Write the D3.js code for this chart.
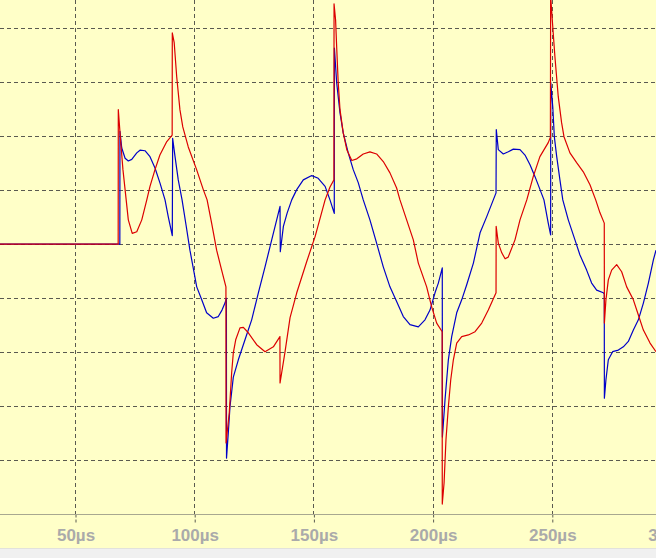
<!DOCTYPE html>
<html>
<head>
<meta charset="utf-8">
<script src="https://cdn.jsdelivr.net/npm/d3@7"></script>
<style>
  html, body { margin: 0; padding: 0; background: #f0f0f0; }
  svg { display: block; }
</style>
</head>
<body>
<svg id="chart" width="656" height="558"></svg>
<script>
// ---- data (time in µs, value in grid units) ----
const tickValues = [50, 100, 150, 200, 250, 300];
const tickUnit = "µs";
const gridLevels = [-4, -3, -2, -1, 0, 1, 2, 3, 4];

const redT = [18, 67.9, 67.95, 68.9, 69.9, 70.8, 72.15, 73.8, 75.7, 77.8, 79.9, 81.25, 83.35, 85.4, 88.3, 90.55,
  90.6, 91.4, 92.45, 93.8, 95.0, 97.3, 100.8, 103.6, 105.2, 107.1, 109.2, 111.3, 113.1,
  113.15, 114.5, 115.5, 116.2, 117.2, 119.0, 120.4, 122.5, 126.0, 129.5, 133.0, 135.75,
  135.8, 137.9, 140.0, 142.8, 147.0, 150.5, 154.7, 156.75, 158.4,
  158.45, 159.1, 159.6, 160.2, 160.95, 162.3, 163.8, 165.9, 168.0, 170.7, 173.5, 176.3, 179.1, 181.9, 184.7, 186.1, 188.9, 191.7, 193.8, 197.3, 199.4, 201.5, 203.8,
  203.85, 204.6, 205.4, 206.4, 207.4, 208.5, 209.9, 212.0, 214.8, 217.6, 220.4, 223.15, 226.4,
  226.45, 227.35, 228.8, 230.2, 231.5, 234.35, 236.45, 239.3, 242.0, 244.8, 248.3, 249.2,
  249.3, 250.2, 251.1, 252.5, 253.9, 254.9, 257.4, 260.2, 263.0, 265.8, 268.2, 270.0, 271.8,
  271.85, 272.5, 273.5, 274.9, 277.0, 279.1, 281.2, 284.0, 286.1, 288.2, 291.0, 293.5];
const redV = [0, 0, 2.49, 1.93, 1.38, 1.01, 0.45, 0.20, 0.23, 0.45, 0.82, 1.07, 1.38, 1.65, 1.90, 2.02,
  3.91, 3.73, 3.10, 2.49, 2.17, 1.80, 1.38, 1.01, 0.82, 0.39, -0.11, -0.48, -0.79,
  -3.68, -3.12, -2.38, -2.01, -1.77, -1.55, -1.54, -1.64, -1.86, -1.99, -1.90, -1.71,
  -2.57, -1.99, -1.36, -0.90, -0.32, 0.14, 0.82, 1.06, 1.19,
  4.45, 4.15, 3.60, 2.99, 2.49, 2.06, 1.75, 1.55, 1.58, 1.67, 1.71, 1.67, 1.53, 1.32, 1.04, 0.82, 0.45, 0.08, -0.35, -0.79, -1.16, -1.46, -1.62,
  -4.81, -4.42, -3.62, -3.01, -2.51, -2.14, -1.83, -1.71, -1.68, -1.62, -1.46, -1.22, -0.90,
  0.33, 0.02, -0.16, -0.27, -0.24, 0.08, 0.45, 0.82, 1.25, 1.62, 1.88, 1.98,
  4.6, 4.02, 3.47, 2.73, 2.25, 1.99, 1.69, 1.51, 1.34, 1.10, 0.82, 0.58, 0.39,
  -1.46, -1.03, -0.66, -0.48, -0.38, -0.51, -0.79, -1.03, -1.31, -1.59, -1.83, -1.99];

const blueT = [18, 68.6, 68.65, 69.4, 70.8, 72.15, 73.6, 75.7, 77.05, 79.15, 81.25, 83.35, 85.45, 87.55, 88.9, 90.6,
  90.75, 91.75, 93.1, 94.7, 96.35, 98.0, 100.85, 102.95, 105.0, 107.8, 109.9, 111.45, 112.7, 113.3,
  113.35, 114.1, 114.8, 116.2, 118.3, 121.1, 123.9, 126.7, 129.5, 132.3, 135.8,
  135.9, 137.2, 138.8, 140.7, 142.8, 145.55, 149.1, 151.8, 154.7, 156.75, 158.55,
  158.6, 159.55, 160.95, 162.3, 164.4, 166.5, 168.6, 170.7, 173.5, 176.3, 179.1, 181.9, 184.7, 187.5, 190.3, 193.8, 196.6, 198.7, 200.8, 202.2, 203.85,
  203.9, 205.0, 206.4, 207.8, 209.9, 212.0, 214.1, 216.9, 219.7, 222.5, 225.25, 226.4,
  226.5, 227.35, 229.45, 231.55, 233.65, 236.45, 238.55, 240.65, 242.75, 244.85, 246.5, 248.3, 249.3,
  249.35, 250.2, 250.85, 251.85, 253.2, 254.4, 256.7, 259.5, 261.6, 264.4, 266.5, 268.6, 271.4, 271.8,
  271.85, 272.5, 273.5, 275.3, 277.7, 279.8, 281.9, 284.0, 286.1, 288.2, 290.3, 292.4, 293.5];
const blueV = [0, 0, 2.09, 1.78, 1.59, 1.54, 1.57, 1.69, 1.74, 1.73, 1.62, 1.41, 1.13, 0.82, 0.51, 0.16,
  1.96, 1.62, 1.19, 0.82, 0.36, -0.11, -0.79, -1.03, -1.27, -1.37, -1.34, -1.22, -1.09, -1.0,
  -3.96, -3.49, -3.01, -2.46, -2.14, -1.77, -1.40, -0.90, -0.42, 0.08, 0.70,
  -0.14, 0.33, 0.58, 0.82, 1.01, 1.19, 1.27, 1.22, 1.07, 0.82, 0.57,
  3.63, 2.99, 2.43, 2.06, 1.69, 1.38, 1.14, 0.82, 0.45, 0.02, -0.42, -0.79, -1.06, -1.34, -1.49, -1.53, -1.40, -1.22, -0.90, -0.72, -0.44,
  -3.57, -2.88, -2.14, -1.71, -1.27, -1.03, -0.75, -0.35, 0.21, 0.51, 0.82, 0.95,
  2.12, 1.75, 1.67, 1.71, 1.76, 1.75, 1.65, 1.47, 1.25, 1.01, 0.82, 0.39, 0.17,
  2.99, 2.54, 1.99, 1.62, 1.19, 0.82, 0.45, 0.08, -0.20, -0.48, -0.72, -0.85, -0.90, -0.92,
  -2.85, -2.51, -2.14, -1.99, -1.96, -1.90, -1.80, -1.59, -1.40, -1.09, -0.72, -0.29, -0.11];

// ---- drawing ----
const W = 656, H = 558, plotBottom = 514.3;
const svg = d3.select("#chart");

const x = d3.scaleLinear().domain([0, 300]).range([-43.7, 671.5]);
const y = d3.scaleLinear().domain([-5, 4.52]).range([plotBottom, 0]);

// backgrounds
svg.append("rect").attr("x", 0).attr("y", 0).attr("width", W).attr("height", 548).attr("fill", "#ffffc8");
svg.append("rect").attr("x", 0).attr("y", 548).attr("width", W).attr("height", 10).attr("fill", "#f0f0f0");
svg.append("line").attr("x1", 0).attr("x2", W).attr("y1", 548.5).attr("y2", 548.5)
  .attr("stroke", "#e2e2dc").attr("stroke-width", 1);

const gridColor = "#5a5a50";
const dash = "4,3";

// horizontal grid
svg.append("g").selectAll("line").data(gridLevels).join("line")
  .attr("x1", 0).attr("x2", W)
  .attr("y1", d => Math.floor(y(d)) + 0.5).attr("y2", d => Math.floor(y(d)) + 0.5)
  .attr("stroke", gridColor).attr("stroke-width", 1).attr("stroke-dasharray", dash);

// vertical grid
svg.append("g").selectAll("line").data(tickValues).join("line")
  .attr("x1", d => Math.floor(x(d)) + 0.5).attr("x2", d => Math.floor(x(d)) + 0.5)
  .attr("y1", 0).attr("y2", plotBottom)
  .attr("stroke", gridColor).attr("stroke-width", 1).attr("stroke-dasharray", dash);

// bottom axis
const axis = d3.axisBottom(x)
  .tickValues(tickValues)
  .tickFormat(d => d + tickUnit)
  .tickSize(9)
  .tickPadding(5);
const gAxis = svg.append("g").attr("transform", `translate(0,${Math.floor(plotBottom) + 0.5})`).call(axis);
gAxis.select(".domain").remove();
gAxis.selectAll(".tick line").attr("stroke", gridColor).attr("stroke-dasharray", "3,2");
gAxis.selectAll(".tick text")
  .attr("fill", "#aaaaaa")
  .attr("font-family", "Liberation Sans, Arial, sans-serif")
  .attr("font-weight", "bold")
  .attr("font-size", 17);
svg.append("line").attr("x1", 0).attr("x2", W)
  .attr("y1", Math.floor(plotBottom) + 0.5).attr("y2", Math.floor(plotBottom) + 0.5)
  .attr("stroke", "#a8a890").attr("stroke-width", 1);

// clip
svg.append("clipPath").attr("id", "plotclip").append("rect")
  .attr("x", 0).attr("y", 0).attr("width", W).attr("height", plotBottom);

const line = d3.line().x(d => x(d[0])).y(d => y(d[1]));
const blue = blueT.map((t, i) => [t, blueV[i]]);
const red = redT.map((t, i) => [t, redV[i]]);

const gLines = svg.append("g").attr("clip-path", "url(#plotclip)");
gLines.append("path").datum(blue).attr("d", line)
  .attr("fill", "none").attr("stroke", "#0000c8").attr("stroke-width", 1.2).attr("stroke-linejoin", "round");
gLines.append("path").datum(red).attr("d", line)
  .attr("fill", "none").attr("stroke", "#dc0000").attr("stroke-width", 1.2).attr("stroke-linejoin", "round");
</script>
</body>
</html>
